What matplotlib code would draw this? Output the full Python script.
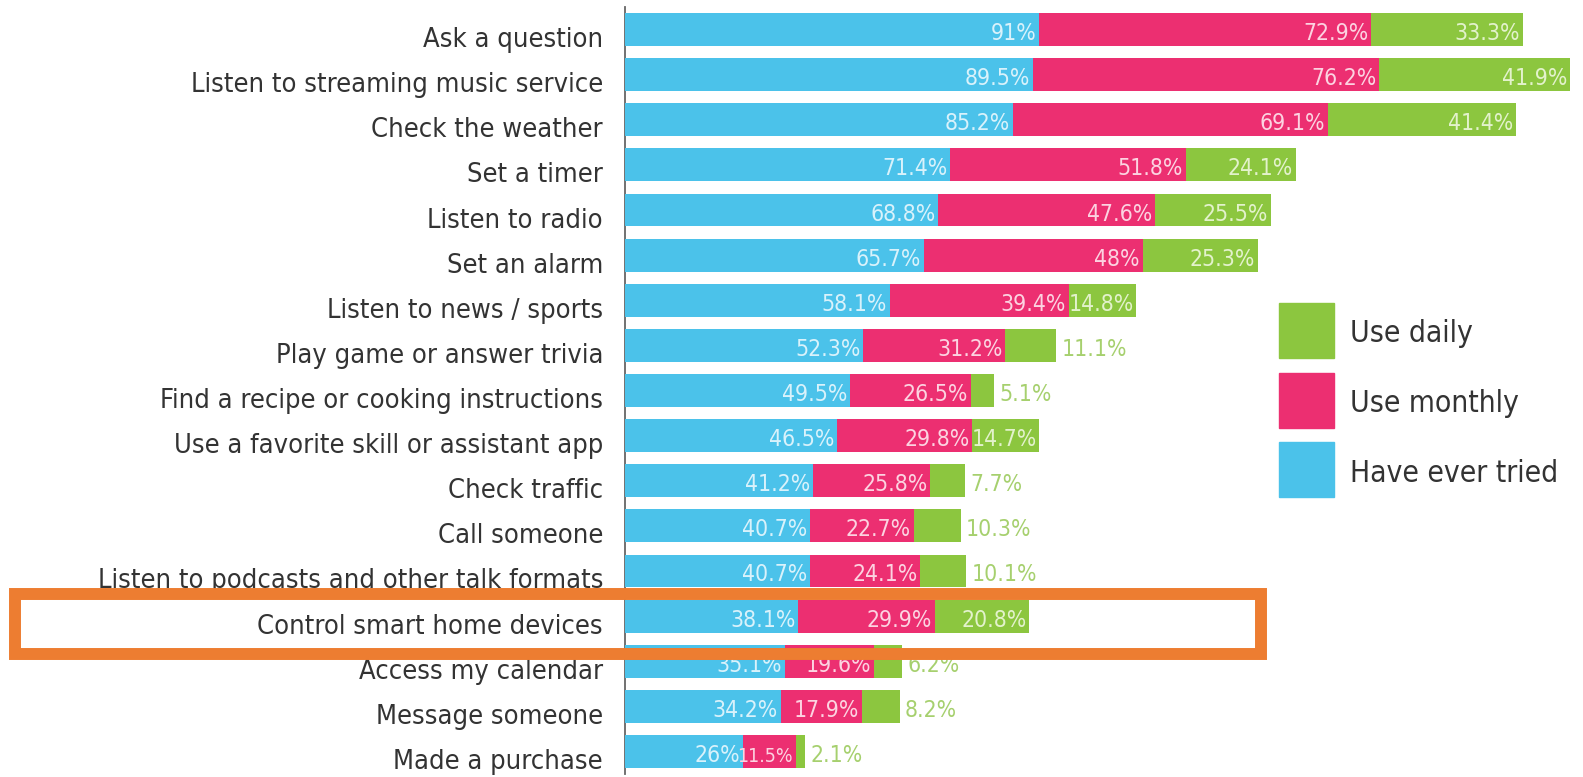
import matplotlib
matplotlib.use("Agg")
import matplotlib.pyplot as plt
from matplotlib.patches import Rectangle

categories = ["Ask a question", "Listen to streaming music service", "Check the weather",
              "Set a timer", "Listen to radio", "Set an alarm", "Listen to news / sports",
              "Play game or answer trivia", "Find a recipe or cooking instructions",
              "Use a favorite skill or assistant app", "Check traffic", "Call someone",
              "Listen to podcasts and other talk formats", "Control smart home devices",
              "Access my calendar", "Message someone", "Made a purchase"]
tried = [91, 89.5, 85.2, 71.4, 68.8, 65.7, 58.1, 52.3, 49.5, 46.5, 41.2, 40.7, 40.7, 38.1, 35.1, 34.2, 26]
monthly = [72.9, 76.2, 69.1, 51.8, 47.6, 48, 39.4, 31.2, 26.5, 29.8, 25.8, 22.7, 24.1, 29.9, 19.6, 17.9, 11.5]
daily = [33.3, 41.9, 41.4, 24.1, 25.5, 25.3, 14.8, 11.1, 5.1, 14.7, 7.7, 10.3, 10.1, 20.8, 6.2, 8.2, 2.1]
legend_labels = ["Use daily", "Use monthly", "Have ever tried"]

blue, pink, green = "#4BC2EA", "#EC2F71", "#8CC63F"
blue_txt, pink_txt, green_txt = "#D9F2FB", "#FCD3E1", "#E3F2CC"
green_out = "#A6D06E"
text_col = "#333333"

plt.rcParams['font.family'] = ['DejaVu Sans']
plt.rcParams['font.stretch'] = 'condensed'

W, H = 1583, 777
fig = plt.figure(figsize=(W / 100, H / 100), dpi=100)
ax = fig.add_axes([625 / W, 3 / H, 1 - 625 / W, 767 / H])

y = list(range(len(categories)))
left3 = [a + b for a, b in zip(tried, monthly)]
h = 0.73
b1 = ax.barh(y, tried, height=h, color=blue, zorder=2)
b2 = ax.barh(y, monthly, left=tried, height=h, color=pink, zorder=2)
b3 = ax.barh(y, daily, left=left3, height=h, color=green, zorder=2)

# px -> pt at 100 dpi
PT = 0.72


def label(r, v, col, outside=False):
    xy = (r.get_x() + r.get_width(), r.get_y() + r.get_height() / 2)
    fs = 16.5 if v > 13 else 14
    if outside:
        ax.annotate(f"{v:g}%", xy, xytext=(4, -10.5 * PT), textcoords='offset points',
                    ha='left', va='baseline', color=col, fontsize=16.5, zorder=3)
    else:
        ax.annotate(f"{v:g}%", xy, xytext=(-2, -10.5 * PT), textcoords='offset points',
                    ha='right', va='baseline', color=col, fontsize=fs, zorder=3)


for r, v in zip(b1, tried):
    label(r, v, blue_txt)
for r, v in zip(b2, monthly):
    label(r, v, pink_txt)
for r, v in zip(b3, daily):
    if v >= 12:
        label(r, v, green_txt)
    else:
        label(r, v, green_out, outside=True)

# category labels (sit a bit low against the bars, as in the original)
for i, c in zip(y, categories):
    ax.annotate(c, (0, i), xytext=(-22 * PT, -17.5 * PT), textcoords='offset points',
                ha='right', va='baseline', fontsize=19.5, color=text_col,
                annotation_clip=False)

ax.set_xlim(0, 210.4)
ax.set_ylim(len(categories) - 0.5, -0.5)
ax.set_yticks([])
ax.set_xticks([])
for s in ['top', 'right', 'bottom']:
    ax.spines[s].set_visible(False)
ax.spines['left'].set_color('#666666')
ax.spines['left'].set_linewidth(1.3)
ax.spines['left'].set_zorder(1)

# legend drawn by hand: squares + text
for k, (lab, col) in enumerate(zip(legend_labels, [green, pink, blue])):
    top = 303 + k * 69.5
    fig.add_artist(Rectangle((1279 / W, 1 - (top + 55) / H), 55 / W, 55 / H,
                             transform=fig.transFigure, color=col))
    fig.text(1350 / W, 1 - (top + 31) / H, lab, fontsize=21.5, color=text_col,
             ha='left', va='center')

box = Rectangle((15 / W, 1 - 654 / H), (1261 - 15) / W, 60 / H,
                transform=fig.transFigure, fill=False, ec="#ED7D31", lw=8.6,
                joinstyle='miter', zorder=10)
fig.add_artist(box)

fig.savefig("out.png", dpi=100, facecolor='white')
